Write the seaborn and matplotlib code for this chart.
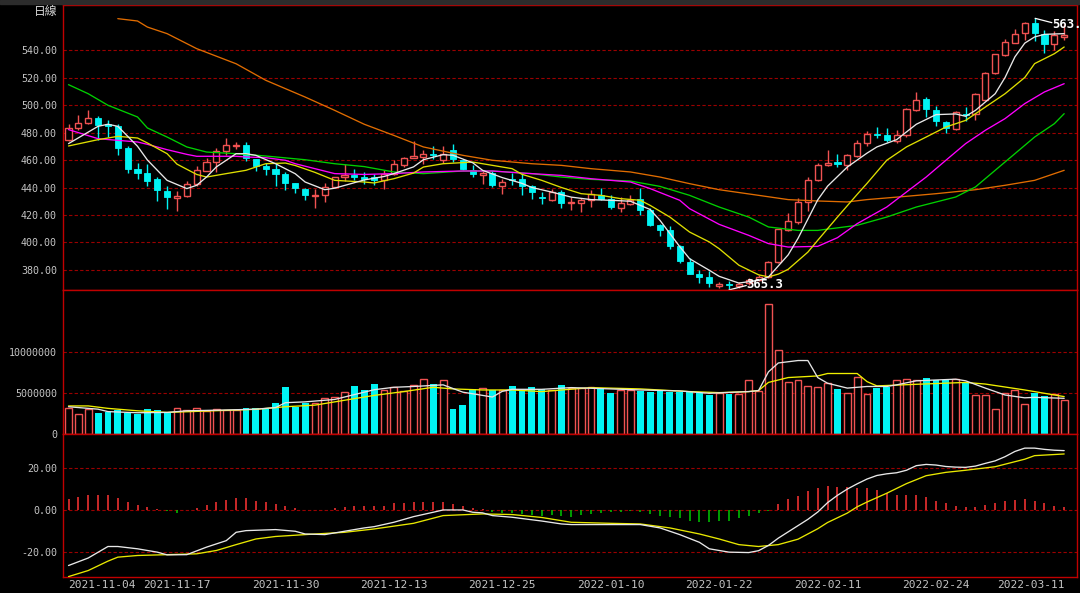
import numpy as np
import pandas as pd
import matplotlib
matplotlib.use("Agg")
import matplotlib.pyplot as plt
from matplotlib.patches import Rectangle
import seaborn as sns

# daily candles (price)
opens = [474.3, 483.3, 487.0, 490.8, 486.0, 485.0, 468.5, 453.2, 450.5, 446.4,
         437.5, 432.4, 433.6, 442.3, 452.0, 458.8, 466.5, 470.2, 471.2, 460.7,
         455.6, 453.2, 450.1, 443.3, 439.2, 433.6, 434.5, 440.4, 447.4, 448.8,
         448.0, 447.6, 445.2, 450.1, 456.1, 461.5, 462.2, 464.6, 460.2, 467.5,
         460.2, 452.5, 448.8, 450.8, 441.1, 446.4, 446.4, 441.0, 433.1, 431.2,
         436.7, 428.7, 429.0, 431.2, 434.8, 431.6, 425.3, 428.2, 431.9, 423.9,
         412.5, 408.8, 397.2, 385.8, 377.3, 374.9, 368.5, 369.8, 368.5, 370.5,
         373.0, 374.9, 385.8, 408.8, 414.9, 429.5, 445.2, 456.1, 458.5, 456.1,
         463.2, 472.4, 479.2, 477.9, 473.8, 477.9, 496.6, 504.1, 496.1, 487.6,
         482.8, 493.7, 493.7, 503.9, 523.3, 536.6, 545.3, 552.6, 559.6, 551.9,
         544.1, 549.5]
highs = [486.0, 493.0, 496.6, 492.0, 489.3, 486.0, 470.4, 458.1, 456.8, 447.6,
         441.1, 437.2, 445.0, 455.4, 461.2, 468.5, 475.8, 473.1, 473.3, 461.0,
         458.1, 456.8, 451.0, 443.5, 440.0, 439.2, 443.0, 448.0, 456.8, 453.5,
         451.3, 450.1, 452.5, 459.8, 462.0, 473.8, 467.5, 469.9, 469.9, 471.9,
         461.0, 456.1, 452.0, 452.0, 446.0, 450.8, 450.8, 442.0, 436.7, 439.2,
         438.4, 433.1, 432.0, 438.4, 439.9, 434.3, 433.1, 434.3, 439.9, 425.3,
         413.8, 411.8, 397.9, 388.7, 379.8, 379.3, 371.0, 372.0, 371.5, 374.5,
         376.0, 386.5, 410.0, 421.7, 432.6, 447.6, 458.1, 467.0, 464.1, 464.6,
         474.3, 481.1, 484.0, 483.5, 481.6, 498.1, 509.5, 505.8, 499.0, 488.5,
         495.5, 498.5, 508.5, 524.0, 537.2, 548.2, 555.5, 560.4, 563.1, 554.3,
         553.8, 559.2]
lows = [474.0, 482.0, 486.4, 474.3, 476.7, 463.9, 450.8, 446.4, 440.9, 429.9,
        424.6, 422.9, 433.0, 440.8, 452.0, 451.3, 463.4, 467.8, 459.3, 452.2,
        449.3, 440.9, 438.2, 436.0, 430.7, 425.1, 429.7, 440.0, 445.0, 445.2,
        442.8, 441.6, 439.2, 449.0, 455.0, 461.5, 456.8, 461.0, 458.0, 458.5,
        452.5, 447.6, 442.3, 440.4, 435.5, 441.6, 434.3, 431.5, 427.8, 430.0,
        425.1, 423.4, 422.2, 425.8, 430.7, 424.0, 421.9, 427.0, 419.8, 411.8,
        404.7, 395.0, 385.3, 376.8, 370.5, 367.6, 367.0, 365.3, 367.0, 369.0,
        372.0, 374.0, 385.0, 408.0, 413.7, 422.9, 444.5, 455.5, 454.9, 452.5,
        462.0, 470.0, 476.2, 473.0, 472.5, 476.7, 496.0, 491.3, 484.5, 479.6,
        482.0, 488.7, 488.8, 503.0, 522.5, 536.0, 545.0, 547.0, 546.3, 537.8,
        540.2, 547.5]
closes = [483.3, 487.0, 490.8, 485.2, 485.0, 468.7, 453.5, 450.8, 444.5, 438.5,
          433.1, 433.8, 442.5, 452.5, 458.8, 466.5, 471.2, 471.2, 461.2, 455.6,
          453.5, 450.1, 443.5, 439.6, 434.3, 434.8, 440.4, 447.6, 448.8, 447.6,
          446.5, 445.2, 450.1, 456.8, 461.7, 462.7, 464.6, 463.4, 464.6, 460.5,
          453.7, 449.6, 450.8, 441.6, 444.0, 445.2, 441.0, 436.5, 432.4, 436.5,
          428.7, 429.5, 431.2, 435.5, 431.9, 425.8, 428.7, 431.2, 423.4, 412.5,
          408.8, 397.2, 386.3, 377.3, 374.9, 370.5, 369.5, 369.0, 369.8, 373.0,
          374.9, 385.8, 409.6, 415.6, 429.5, 445.2, 456.1, 458.1, 456.8, 463.4,
          472.6, 479.2, 478.0, 474.3, 477.9, 497.3, 503.9, 496.8, 488.1, 483.3,
          494.9, 492.5, 507.8, 523.5, 536.8, 545.8, 551.9, 559.6, 552.6, 544.6,
          550.7, 551.2]

# volume in millions of shares
volume_m = [3.1, 2.44, 2.98, 2.48, 2.69, 2.89, 2.48, 2.36, 3.02, 2.85,
            2.56, 3.1, 2.85, 3.1, 2.81, 2.98, 2.89, 2.89, 3.1, 3.1,
            3.02, 3.8, 5.79, 3.3, 3.8, 3.8, 4.42, 4.55, 5.12, 5.87,
            5.37, 6.12, 5.37, 5.79, 5.21, 5.95, 6.69, 6.12, 6.57, 2.98,
            3.55, 5.5, 5.62, 5.37, 5.37, 5.87, 5.25, 5.74, 5.45, 5.37,
            5.99, 5.66, 5.66, 5.74, 5.54, 5.0, 5.41, 5.37, 5.29, 5.08,
            5.29, 5.12, 5.12, 5.12, 5.04, 4.79, 4.96, 4.83, 4.83, 6.61,
            5.29, 16.0, 10.29, 6.36, 6.61, 5.87, 5.74, 6.2, 5.54, 5.04,
            6.94, 4.92, 5.66, 5.79, 6.61, 6.74, 6.61, 6.86, 6.61, 6.61,
            6.74, 6.4, 4.79, 4.79, 2.98, 4.96, 5.41, 3.68, 4.96, 4.63,
            4.88, 4.17]

# MACD histogram
macd_hist = [5.3, 6.4, 7.3, 7.3, 7.3, 5.7, 4.0, 2.6, 1.6, 0.6,
             -0.6, -1.3, 0.0, 1.0, 2.6, 4.0, 4.8, 5.7, 5.6, 4.5,
             4.0, 2.9, 1.9, 1.0, 0.2, 0.0, 0.0, 1.0, 1.6, 2.1,
             2.1, 2.1, 2.1, 3.2, 3.5, 4.0, 4.0, 4.0, 4.0, 2.9,
             1.9, 1.0, 0.3, -1.0, -1.3, -1.3, -1.9, -2.2, -2.7, -2.2,
             -2.7, -3.2, -2.2, -1.9, -1.6, -1.1, -1.0, -0.6, -1.0, -1.9,
             -2.7, -3.2, -3.8, -5.1, -5.9, -5.9, -5.4, -5.1, -3.8, -2.7,
             -1.6, -0.6, 2.9, 5.1, 6.9, 9.2, 10.7, 11.6, 11.2, 10.8,
             10.7, 10.5, 9.6, 8.1, 7.3, 7.3, 7.3, 6.4, 4.5, 3.2,
             2.1, 1.6, 1.6, 2.6, 3.5, 4.5, 4.8, 5.3, 4.5, 3.2,
             2.1, 1.3]

# moving average lines (candle index, value)
ma5_idx = [0, 3, 4, 5, 7, 8, 10, 12, 13, 14, 15, 17, 18, 19, 21, 23, 24, 26, 27, 30,
           32, 33, 35, 36, 38, 39, 41, 42, 44, 46, 47, 49, 51, 53, 55, 57, 59, 60, 62, 63,
           65, 66, 68, 70, 71, 73, 74, 75, 76, 77, 79, 81, 82, 84, 86, 88, 90, 91, 92, 94,
           95, 96, 97, 98, 99, 101]
ma5_val = [471.9, 484.5, 486.0, 484.5, 470.0, 460.0, 445.2, 439.2, 441.6, 447.6, 455.0, 464.6,
           464.6, 463.4, 457.3, 450.0, 444.0, 438.4, 439.5, 445.5, 448.0, 450.1, 455.0, 460.2,
           463.9, 463.4, 458.0, 452.5, 447.2, 443.0, 440.0, 436.7, 433.0, 431.2, 430.7, 430.0,
           424.0, 416.1, 397.0, 388.2, 379.8, 375.4, 370.5, 372.5, 374.9, 391.0, 403.0, 417.0,
           431.0, 441.0, 454.9, 465.0, 469.5, 474.8, 486.0, 493.0, 493.5, 491.8, 496.1, 508.2,
           520.0, 535.0, 545.0, 549.5, 551.4, 551.9]
ma10_idx = [0, 3, 5, 7, 8, 10, 11, 13, 14, 16, 18, 20, 22, 23, 25, 27, 30, 31, 33, 35,
            36, 38, 41, 42, 45, 46, 48, 50, 52, 54, 56, 58, 59, 61, 63, 65, 66, 68, 70, 71,
            72, 73, 75, 76, 78, 80, 81, 83, 85, 87, 89, 91, 93, 95, 97, 98, 100, 101]
ma10_val = [470.2, 474.8, 477.2, 476.0, 472.4, 464.6, 457.0, 449.5, 447.6, 450.1, 452.5,
            457.3, 457.8, 456.0, 451.0, 445.2, 444.0, 443.3, 446.4, 450.5, 454.9, 457.3,
            458.5, 457.3, 453.7, 449.6, 445.2, 440.0, 435.5, 434.3, 431.9, 430.7, 427.0,
            418.5, 407.6, 400.4, 395.5, 383.5, 376.5, 375.0, 377.0, 380.5, 393.0, 401.6,
            418.5, 435.0, 443.0, 459.8, 469.5, 476.7, 484.0, 488.8, 498.5, 508.2, 520.0,
            530.1, 537.3, 542.2]
ma20_idx = [0, 3, 5, 7, 8, 10, 12, 13, 17, 18, 20, 22, 23, 25, 27, 30, 33, 36, 40, 43,
            46, 50, 53, 57, 59, 62, 63, 66, 69, 71, 73, 76, 78, 80, 83, 85, 87, 89, 91, 93,
            95, 97, 99, 101]
ma20_val = [482.1, 475.5, 474.3, 473.1, 471.4, 467.5, 464.1, 462.7, 462.7, 462.2, 461.7,
            459.8, 457.3, 453.7, 450.1, 449.5, 450.1, 451.3, 452.0, 452.0, 450.5, 448.8,
            446.4, 444.0, 439.2, 430.7, 424.6, 413.2, 405.2, 399.2, 396.7, 397.2, 403.5,
            413.7, 425.8, 436.7, 447.6, 459.8, 471.9, 481.6, 490.1, 501.0, 509.5, 515.5]
ma60_idx = [0, 2, 4, 7, 8, 10, 12, 14, 17, 20, 24, 27, 30, 33, 36, 40, 43, 47, 50, 53,
            57, 60, 63, 66, 69, 71, 74, 76, 80, 83, 86, 90, 92, 94, 96, 98, 100, 101]
ma60_val = [514.8, 508.2, 499.8, 491.3, 483.3, 476.7, 469.5, 465.8, 464.6, 462.9, 460.2,
            457.3, 455.2, 451.3, 450.1, 452.0, 452.0, 450.1, 447.6, 445.9, 444.7, 440.8,
            434.3, 425.8, 418.5, 411.3, 408.8, 408.8, 412.5, 418.5, 425.8, 433.1, 440.4,
            452.5, 464.6, 476.7, 486.4, 493.7]
ma120_idx = [5, 7, 8, 10, 13, 17, 20, 24, 27, 30, 33, 36, 40, 43, 47, 50, 53, 57, 60, 63,
             66, 70, 73, 76, 79, 81, 85, 88, 92, 95, 98, 101]
ma120_val = [562.8, 561.1, 556.7, 551.9, 541.0, 530.0, 518.0, 505.8, 496.1, 486.0, 477.9,
             469.5, 463.4, 459.8, 457.3, 456.1, 453.7, 451.3, 447.6, 442.8, 438.4, 434.3,
             431.2, 430.2, 429.5, 431.2, 433.6, 435.5, 438.4, 441.6, 445.2, 452.5]

# volume averages (millions)
vma5_idx = [0, 3, 4, 7, 10, 12, 16, 19, 21, 22, 24, 25, 27, 29, 31, 33, 35, 38, 40, 42,
            43, 44, 45, 48, 51, 55, 58, 62, 65, 69, 70, 71, 72, 74, 75, 76, 77, 79, 81, 83,
            84, 86, 90, 91, 93, 95, 97, 98, 101]
vma5_val = [3.3, 3.0, 2.7, 2.56, 2.6, 2.8, 2.9, 3.0, 3.2, 3.8, 3.9, 4.0, 4.2, 4.8, 5.4, 5.7,
            5.8, 6.0, 5.1, 4.7, 4.5, 5.2, 5.45, 5.45, 5.66, 5.5, 5.37, 5.25, 4.96, 5.17, 5.3,
            7.6, 8.7, 9.0, 9.0, 6.9, 6.2, 5.6, 5.8, 5.8, 6.0, 6.5, 6.7, 6.5, 5.6, 4.75, 4.4,
            4.46, 4.34]
vma10_idx = [0, 2, 4, 7, 10, 14, 19, 22, 25, 28, 31, 34, 37, 39, 42, 45, 48, 53, 58, 63,
             66, 69, 70, 71, 73, 76, 77, 80, 81, 82, 86, 91, 93, 97, 99, 101]
vma10_val = [3.4, 3.4, 3.1, 2.8, 2.6, 2.77, 2.98, 3.3, 3.5, 4.1, 4.7, 5.17, 5.7, 5.5, 5.37,
             5.37, 5.17, 5.66, 5.5, 5.17, 5.04, 5.17, 5.3, 6.3, 6.9, 7.1, 7.4, 7.4, 6.4, 5.87,
             6.07, 6.3, 6.1, 5.37, 4.96, 4.55]

# MACD lines
dif_idx = [0, 2, 4, 5, 7, 9, 10, 12, 14, 16, 17, 18, 21, 23, 24, 26, 28, 30, 31, 33,
           35, 37, 38, 40, 41, 42, 43, 45, 48, 50, 51, 55, 58, 60, 62, 64, 65, 67, 69, 70,
           71, 72, 73, 74, 75, 76, 77, 78, 79, 80, 81, 82, 83, 84, 85, 86, 87, 88, 89, 90,
           91, 92, 93, 94, 95, 96, 97, 98, 99, 100, 101]
dif_val = [-26.6, -23.0, -17.5, -17.5, -18.6, -20.2, -21.5, -21.4, -17.8, -14.7, -10.7,
           -9.9, -9.4, -10.2, -11.5, -11.8, -10.2, -8.6, -8.0, -5.9, -3.2, -1.1, 0.0, 0.0,
           -1.1, -1.4, -2.7, -3.5, -5.3, -6.7, -7.0, -7.0, -7.0, -8.6, -11.8, -15.5, -18.6,
           -20.2, -20.4, -19.5, -17.0, -13.5, -10.5, -7.5, -4.5, -1.0, 3.5, 7.0, 10.0, 12.5,
           14.8, 16.5, 17.3, 17.8, 19.0, 21.2, 21.8, 21.5, 20.8, 20.5, 20.4, 21.0, 22.3,
           23.5, 25.5, 28.0, 29.6, 29.6, 29.0, 28.6, 28.4]
dea_idx = [0, 2, 4, 5, 7, 10, 13, 15, 17, 19, 21, 24, 28, 31, 35, 38, 42, 45, 48, 51,
           55, 58, 61, 64, 66, 68, 70, 72, 74, 76, 77, 79, 80, 81, 83, 85, 87, 89, 91, 94,
           97, 98, 101]
dea_val = [-31.9, -29.0, -24.5, -22.6, -21.8, -21.4, -21.0, -19.4, -16.6, -13.9, -12.7,
           -11.8, -10.7, -9.1, -6.4, -2.7, -1.9, -2.2, -3.6, -5.9, -6.4, -6.7, -8.6, -11.5,
           -13.9, -16.6, -17.5, -16.6, -14.0, -9.0, -6.0, -1.5, 1.5, 3.8, 8.0, 12.6, 16.4,
           18.0, 19.0, 20.7, 24.3, 26.0, 26.8]

date_ticks = [0, 11, 22, 33, 44, 55, 66, 77, 88, 101]
date_labels = ["2021-11-04", "2021-11-17", "2021-11-30", "2021-12-13", "2021-12-25",
               "2022-01-10", "2022-01-22", "2022-02-11", "2022-02-24", "2022-03-11"]
price_ticks = [380, 400, 420, 440, 460, 480, 500, 520, 540]
vol_ticks = [0, 5000000, 10000000]
macd_ticks = [-20, 0, 20]

UP = "#f05252"
DN = "#00f4f4"
FRAME = "#c00000"
GRID = "#9a0000"
LABEL = "#c4c4c4"

sns.set_theme(style="dark", rc={"axes.facecolor": "black", "figure.facecolor": "black",
                                "axes.edgecolor": FRAME, "axes.linewidth": 1.0,
                                "xtick.color": LABEL, "ytick.color": LABEL,
                                "text.color": LABEL})
plt.rcParams["font.family"] = ["DejaVu Sans Mono"]

df = pd.DataFrame({"o": opens, "h": highs, "l": lows, "c": closes,
                   "v": np.array(volume_m) * 1e6, "macd": macd_hist})
df["i"] = np.arange(len(df))
up = (df["c"] >= df["o"]).values
x = df["i"].values
o, h, l, c = df["o"].values, df["h"].values, df["l"].values, df["c"].values
body_top = np.maximum(o, c)
body_bot = np.minimum(o, c)

fig = plt.figure(figsize=(10.8, 5.93), dpi=100)
W_PX, H_PX = 1080, 593
left, width = 63 / W_PX, (1077 - 63) / W_PX
ax_p = fig.add_axes([left, 1 - 290 / H_PX, width, (290 - 4.5) / H_PX])
ax_v = fig.add_axes([left, 1 - 433.5 / H_PX, width, 143.5 / H_PX], sharex=ax_p)
ax_m = fig.add_axes([left, 1 - 577 / H_PX, width, 143.5 / H_PX], sharex=ax_p)
fig.patches.append(Rectangle((0, 1 - 4 / H_PX), 1, 4 / H_PX, transform=fig.transFigure,
                             color="#2c2c2c", zorder=0))

# --- price panel ---
ax_p.vlines(x[up], body_top[up], h[up], color=UP, lw=1.0, zorder=2)
ax_p.vlines(x[up], l[up], body_bot[up], color=UP, lw=1.0, zorder=2)
ax_p.vlines(x[~up], l[~up], h[~up], color=DN, lw=1.0, zorder=2)
ax_p.bar(x[up], (c - o)[up], bottom=o[up], width=0.62, facecolor="black",
         edgecolor=UP, linewidth=1.0, zorder=3)
ax_p.bar(x[~up], (o - c)[~up], bottom=c[~up], width=0.62, color=DN,
         edgecolor=DN, linewidth=0.6, zorder=3)

for idx, val, col in [(ma120_idx, ma120_val, "#e06c00"), (ma60_idx, ma60_val, "#00d000"),
                      (ma20_idx, ma20_val, "#ff00ff"), (ma10_idx, ma10_val, "#dede00"),
                      (ma5_idx, ma5_val, "#e8e8e8")]:
    sns.lineplot(x=idx, y=val, ax=ax_p, color=col, linewidth=0.95, zorder=4)

ax_p.plot([98.05, 99.75], [563.05, 559.9], color="white", lw=0.9, zorder=5)
ax_p.text(99.8, 558.6, "563.1", color="white", fontsize=8.8, fontweight="bold",
          ha="left", va="center", clip_on=False, zorder=6)
ax_p.plot([67, 68.75], [365.5, 368.7], color="white", lw=0.9, zorder=5, clip_on=False)
ax_p.text(68.8, 369.1, "365.3", color="white", fontsize=8.8, fontweight="bold",
          ha="left", va="center", clip_on=False, zorder=6)

ax_p.set_ylim(365.45, 573.1)
ax_p.set_yticks(price_ticks, labels=[f"{t:.2f}" for t in price_ticks])

# --- volume panel ---
v = df["v"].values
ax_v.bar(x[up], v[up], width=0.7, facecolor="black", edgecolor=UP, linewidth=1.0, zorder=2)
ax_v.bar(x[~up], v[~up], width=0.7, color=DN, linewidth=0, zorder=2)
sns.lineplot(x=vma10_idx, y=np.array(vma10_val) * 1e6, ax=ax_v, color="#f0f000",
             linewidth=0.95, zorder=4)
sns.lineplot(x=vma5_idx, y=np.array(vma5_val) * 1e6, ax=ax_v, color="#e4e4e4",
             linewidth=0.95, zorder=4)
ax_v.set_ylim(0, 17.7e6)
ax_v.set_yticks(vol_ticks, labels=[str(t) for t in vol_ticks])

# --- MACD panel ---
hist = df["macd"].values
pos = hist > 0
ax_m.vlines(x[pos], 0, hist[pos], color="#ff3535", lw=1.1, zorder=2)
ax_m.vlines(x[~pos], 0, hist[~pos], color="#00c800", lw=1.1, zorder=2)
sns.lineplot(x=dea_idx, y=dea_val, ax=ax_m, color="#e8e800", linewidth=0.95, zorder=4)
sns.lineplot(x=dif_idx, y=dif_val, ax=ax_m, color="#e8e8e8", linewidth=0.95, zorder=4)
ax_m.set_ylim(-32.1, 36.6)
ax_m.set_yticks(macd_ticks, labels=[f"{t:.2f}" for t in macd_ticks])

ax_m.set_xlim(-0.56, 102.3)
ax_m.set_xticks(date_ticks, labels=date_labels)
ax_m.tick_params(axis="x", direction="in", length=3, color=FRAME, labelsize=8,
                 pad=2, labelcolor=LABEL)
xl = ax_m.get_xticklabels()
xl[0].set_horizontalalignment("left")
xl[-1].set_horizontalalignment("right")

for ax in (ax_p, ax_v, ax_m):
    ax.set_xlabel("")
    ax.set_ylabel("")
    ax.grid(False)
    ax.grid(axis="y", color=GRID, linestyle=(0, (3, 2)), linewidth=0.8)
    ax.tick_params(axis="y", length=0, pad=4.3, labelsize=7.2, labelcolor=LABEL)
    for sp in ax.spines.values():
        sp.set_color(FRAME)
        sp.set_linewidth(1.0)
        sp.set_visible(True)
    ax.set_axisbelow(True)
for ax in (ax_p, ax_v):
    ax.tick_params(axis="x", bottom=False, labelbottom=False)

fig.text(46 / W_PX, 1 - 12 / H_PX, "日線", ha="center", va="center", color="#d8d8d8",
         fontsize=8.5, family=["Noto Sans CJK TC", "DejaVu Sans"])

fig.savefig("out.png", dpi=100, facecolor="black")
